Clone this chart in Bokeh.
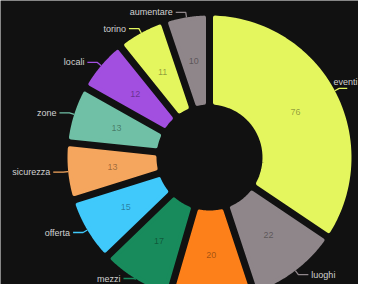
import re
import math
import numpy as np
from bokeh.plotting import figure
from bokeh.models import Range1d, ColumnDataSource
from bokeh.core.properties import value
from bokeh.embed import file_html
from bokeh.resources import INLINE

# ---- data (clockwise from 12 o'clock) ----
categories = ["eventi", "luoghi", "", "mezzi", "offerta", "sicurezza", "zone", "locali", "torino", "aumentare"]
values = [76, 22, 20, 17, 15, 13, 13, 12, 11, 10]
palette = ["#e4f65e", "#8f868a", "#fd801a", "#188b5c", "#40c9fb", "#f5a65e", "#70c0a6", "#a24fe0"]

BG = "#111111"
W, H = 358, 284
cx, cy = 209.0, H - 157.0
r_in, r_out = 53.0, 142.0
gap = 7.0
stroke = 4.0
FONT_PX = 9
CHAR_W = 0.56 * FONT_PX  # rough average glyph width
EDGE = 6.0

n = len(values)
pad_r = math.sqrt(r_in ** 2 + r_out ** 2)
pad_ang = gap / pad_r
k = (2 * math.pi - n * pad_ang) / sum(values)

xs, ys, fills = [], [], []
lx, ly, lcol = [], [], []
tx, ty, ttxt, talign, tbase = [], [], [], [], []
vx, vy, vtxt = [], [], []

h = gap / 2 + stroke / 2
ro = r_out - stroke / 2
ri = r_in + stroke / 2
a = math.pi / 2
for i, (cat, v) in enumerate(zip(categories, values)):
    col = palette[i % len(palette)]
    slot = v * k + pad_ang
    a0, a1 = a, a - slot
    a = a1
    o0, o1 = a0 - math.asin(h / ro), a1 + math.asin(h / ro)
    i0, i1 = a0 - math.asin(h / ri), a1 + math.asin(h / ri)
    to = np.linspace(o0, o1, 60)
    ti = np.linspace(i1, i0, 30)
    px = list(cx + ro * np.cos(to)) + list(cx + ri * np.cos(ti))
    py = list(cy + ro * np.sin(to)) + list(cy + ri * np.sin(ti))
    xs.append(px); ys.append(py); fills.append(col)

    m = (a0 + a1) / 2
    rm = (r_in + r_out) / 2
    vx.append(cx + rm * math.cos(m)); vy.append(cy + rm * math.sin(m)); vtxt.append(str(v))

    if cat:
        sgn = 1 if math.cos(m) >= 0 else -1
        p0 = (cx + r_out * math.cos(m), cy + r_out * math.sin(m))
        p1 = (cx + (r_out + 5) * math.cos(m), cy + (r_out + 5) * math.sin(m))
        p1 = (p1[0], min(max(p1[1], EDGE), H - EDGE))
        p2 = (p1[0] + sgn * 10, p1[1])
        text_w = len(cat) * CHAR_W
        if sgn > 0 and p2[0] + 3 + text_w > W - 1:
            # not enough room at the right edge: sit the label on its leader line
            p2 = (p1[0] + 8, p1[1])
            tx.append(W - 1); ty.append(p2[1] + 1); ttxt.append(cat)
            talign.append("right"); tbase.append("bottom")
        else:
            tx.append(p2[0] + sgn * 3); ty.append(p2[1]); ttxt.append(cat)
            talign.append("left" if sgn > 0 else "right"); tbase.append("middle")
        lx.append([p0[0], p1[0], p2[0]]); ly.append([p0[1], p1[1], p2[1]]); lcol.append(col)

p = figure(width=W, height=H, output_backend="svg", toolbar_location=None,
           x_range=Range1d(0, W), y_range=Range1d(0, H), min_border=0,
           background_fill_color=BG, border_fill_color=BG, outline_line_color=None)
p.axis.visible = False
p.grid.visible = False

p.patches(xs="xs", ys="ys", fill_color="fill", line_color="fill", line_width=stroke,
          line_join="round",
          source=ColumnDataSource(dict(xs=xs, ys=ys, fill=fills)))
p.multi_line(xs="xs", ys="ys", line_color="c", line_width=1.3,
             source=ColumnDataSource(dict(xs=lx, ys=ly, c=lcol)))
p.text(x="x", y="y", text="t", text_align="a", text_baseline="b",
       text_font=value("Liberation Sans"), text_font_size=value("%dpx" % FONT_PX), text_color="#d2d2d2",
       source=ColumnDataSource(dict(x=tx, y=ty, t=ttxt, a=talign, b=tbase)))
p.text(x="x", y="y", text="t", text_align="center", text_baseline="middle",
       text_font=value("Liberation Sans"), text_font_size=value("%dpx" % FONT_PX), text_color="#000000",
       text_alpha=0.38,
       source=ColumnDataSource(dict(x=vx, y=vy, t=vtxt)))

html = file_html(p, INLINE)
html = re.sub(r"<body([^>]*)>", r'<body\1 style="background-color:%s">' % BG, html, count=1)
open("out.html", "w").write(html)
